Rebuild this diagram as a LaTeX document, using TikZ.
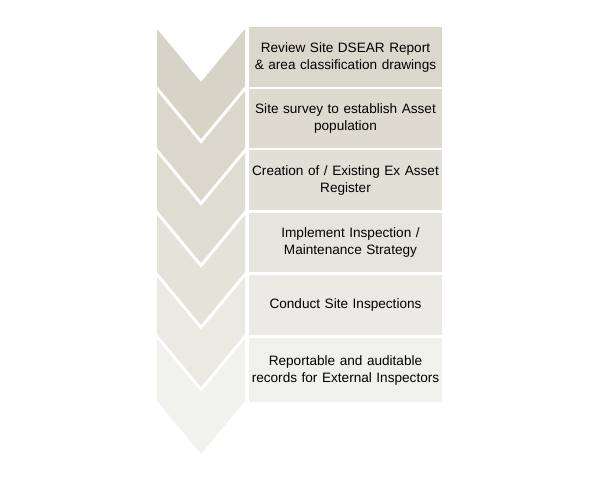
\documentclass[tikz,border=0pt]{standalone}
\usepackage{fontspec}
\setmainfont{Liberation Sans}
\definecolor{ch1}{RGB}{214,212,199}
\definecolor{ch2}{RGB}{218,216,204}
\definecolor{ch3}{RGB}{222,221,210}
\definecolor{ch4}{RGB}{228,227,218}
\definecolor{ch5}{RGB}{234,233,226}
\definecolor{ch6}{RGB}{242,242,237}
\definecolor{bx1}{RGB}{218,216,204}
\definecolor{bx2}{RGB}{221,219,208}
\definecolor{bx3}{RGB}{225,224,214}
\definecolor{bx4}{RGB}{230,229,221}
\definecolor{bx5}{RGB}{235,234,228}
\definecolor{bx6}{RGB}{241,241,236}
\begin{document}
\begin{tikzpicture}[x=1pt,y=-1pt,
  stepbox/.style={fill=#1, minimum width=193pt, text width=189pt, align=center,
    inner sep=0pt, text=black, font=\fontsize{13.6}{17}\selectfont}]
\useasboundingbox (0,0) rectangle (600,500);
% chevrons
\foreach \i/\c/\g in {1/ch1/5,2/ch2/5,3/ch3/5,4/ch4/5,5/ch5/5,6/ch6/0}{
  \pgfmathsetmacro{\t}{29+62*(\i-1)}
  \fill[\c] (157,\t) -- (201,\t+53) -- (245,\t) -- (245,\t+62-\g)
    -- (201,\t+115-\g) -- (157,\t+62-\g) -- cycle;
}
% boxes
\node[stepbox=bx1, minimum height=60pt] (b1) at (345.5,57.5)
  {Review Site DSEAR Report\\\& area classification drawings};
\node[stepbox=bx2, minimum height=59pt] (b2) at (345.5,118.5)
  {Site survey to establish Asset\\population};
\node[stepbox=bx3, minimum height=60pt] (b3) at (345.5,180)
  {Creation of / Existing Ex Asset\\Register};
\node[stepbox=bx4, minimum height=59pt] (b4) at (345.5,242.5)
  {\hspace*{10pt}Implement Inspection /\\\hspace*{10pt}Maintenance Strategy};
\node[stepbox=bx5, minimum height=60pt] (b5) at (345.5,305)
  {Conduct Site Inspections};
\node[stepbox=bx6, minimum height=64pt] (b6) at (345.5,370)
  {Reportable and auditable\\records for External Inspectors};
\end{tikzpicture}
\end{document}
